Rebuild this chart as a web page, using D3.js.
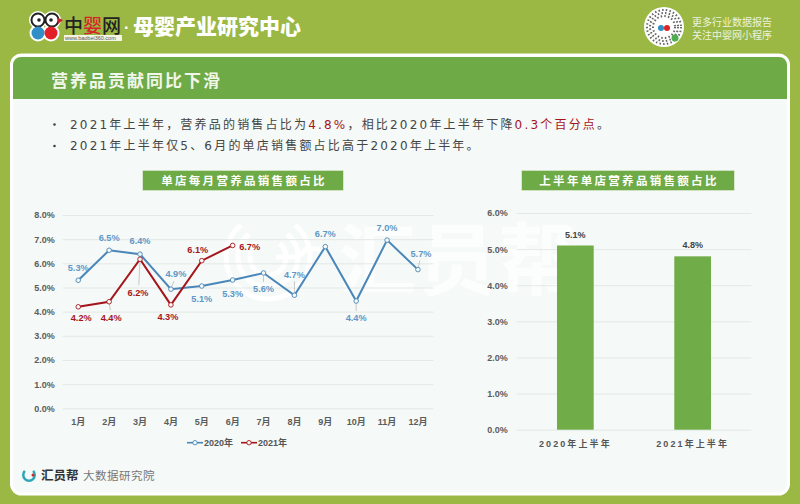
<!DOCTYPE html>
<html>
<head>
<meta charset="utf-8">
<script src="https://cdn.jsdelivr.net/npm/d3@7"></script>
<style>
html, body { margin: 0; padding: 0; background: #9ab843; }
svg { display: block; font-family: "Liberation Sans", "Noto Sans CJK SC", sans-serif; }
</style>
</head>
<body>
<script>
const months = ['1月', '2月', '3月', '4月', '5月', '6月', '7月', '8月', '9月', '10月', '11月', '12月']
const values2020 = [5.3, 6.54, 6.38, 4.93, 5.06, 5.31, 5.6, 4.68, 6.69, 4.44, 6.96, 5.74]
const values2021 = [4.2, 4.41, 6.17, 4.28, 6.11, 6.74]
const halfYears = ['2020年上半年', '2021年上半年']
const halfValues = [5.1, 4.8]
const lineTicks = [0, 1, 2, 3, 4, 5, 6, 7, 8]
const barTicks = [0, 1, 2, 3, 4, 5, 6]

// label nudges
const nudge2020 = [[0, -13], [0, -13], [0, -13], [5, -15], [0, 13], [0, 14], [0, 16], [0, -21], [0, -13], [0, 17], [0, -12], [3, -16]]
const nudge2021 = [[3, 10.5], [2, 15.5], [-2, 33], [-3, 12], [-4, -11], [17, 1]]

const blue = '#5f97c6'
const lineBlue = '#4a86b8'
const red = '#a5151c'
const green = '#6eaa46'
const pct = d3.format('.1f')

const svg = d3.select('body').append('svg').attr('width', 800).attr('height', 504)

svg.append('rect').attr('width', 800).attr('height', 504).attr('fill', '#9ab843')

// panel
svg.append('rect').attr('x', 11.5).attr('y', 55).attr('width', 777).attr('height', 439)
    .attr('rx', 10).attr('fill', '#f5f9f7').attr('stroke', '#fff').attr('stroke-width', 3)
svg.append('path').attr('d', 'M13 99V65a8 8 0 0 1 8-8H779a8 8 0 0 1 8 8V99Z').attr('fill', green)
svg.append('text').attr('x', 51).attr('y', 87).text('营养品贡献同比下滑')
    .attr('font-size', 17).attr('font-weight', 700).attr('letter-spacing', 2).attr('fill', '#f1f6ea')

// top banner
const logo = svg.append('g')
logo.selectAll('circle.o').data([[38, 20, 7.5], [52, 20, 7.5], [38, 33, 7], [51, 33, 7]]).enter().append('circle')
    .attr('cx', d => d[0]).attr('cy', d => d[1]).attr('r', d => d[2] + 1.5).attr('fill', '#fff')
logo.selectAll('circle.h').data([[38, 20], [52, 20]]).enter().append('circle')
    .attr('cx', d => d[0]).attr('cy', d => d[1]).attr('r', 6.5).attr('fill', '#fff').attr('stroke', '#222').attr('stroke-width', 2)
logo.selectAll('circle.e').data([[39, 20], [51, 20]]).enter().append('circle')
    .attr('cx', d => d[0]).attr('cy', d => d[1]).attr('r', 1.8).attr('fill', '#222')
logo.append('circle').attr('cx', 38).attr('cy', 33).attr('r', 6.5).attr('fill', '#2f8fc6')
logo.append('circle').attr('cx', 51).attr('cy', 33).attr('r', 6.5).attr('fill', '#e1202a')
logo.append('path').attr('d', 'M58 18L63 20L58 24Z').attr('fill', '#c4202a')
logo.append('rect').attr('x', 64).attr('y', 35).attr('width', 58).attr('height', 6).attr('fill', '#f2f4e4')
logo.append('text').attr('x', 65).attr('y', 40).attr('font-size', 5.5).attr('fill', '#555').text('www.baobei360.com')
const logoText = logo.append('text').attr('x', 64).attr('y', 33).attr('font-size', 19).attr('font-weight', 500)
    .attr('font-family', '"Noto Sans CJK SC"')
logoText.append('tspan').attr('fill', '#222').text('中')
logoText.append('tspan').attr('fill', '#d8232a').text('婴')
logoText.append('tspan').attr('fill', '#222').text('网')
svg.append('text').attr('x', 124).attr('y', 33).attr('font-size', 16).attr('font-weight', 700).attr('fill', '#fff').text('·')
svg.append('text').attr('x', 133).attr('y', 34).attr('font-size', 21).attr('font-weight', 900)
    .attr('font-family', '"Noto Sans CJK SC"').attr('fill', '#fff').text('母婴产业研究中心')

// mini program badge
const badge = svg.append('g').attr('transform', 'translate(664,27)')
badge.append('circle').attr('r', 20).attr('fill', '#fff')
badge.selectAll('circle.q').data([17, 14, 11]).enter().append('circle')
    .attr('r', d => d).attr('fill', 'none').attr('stroke', '#666').attr('stroke-width', 2).attr('stroke-dasharray', '1.5 2.2')
badge.append('circle').attr('cx', -3).attr('cy', 1).attr('r', 3).attr('fill', '#2f8fc6')
badge.append('circle').attr('cx', 3).attr('cy', 1).attr('r', 3).attr('fill', '#d8232a')
badge.append('circle').attr('cx', 11).attr('cy', 11).attr('r', 3.5).attr('fill', '#4caf50')
svg.selectAll('text.badge').data(['更多行业数据报告', '关注中婴网小程序']).enter().append('text')
    .attr('x', 692).attr('y', (d, i) => 26 + i * 12.5).attr('font-size', 10).attr('fill', '#eef3dd').text(d => d)

// bullet text
const bullets = [
    [['2021年上半年，营养品的销售占比为', '#444'], ['4.8%', red], ['，相比2020年上半年下降', '#444'], ['0.3个百分点', red], ['。', '#444']],
    [['2021年上半年仅5、6月的单店销售额占比高于2020年上半年。', '#444']]
]
bullets.forEach((parts, i) => {
    const y = 128.5 + i * 21.5
    svg.append('circle').attr('cx', 54.5).attr('cy', y - 4).attr('r', 1.3).attr('fill', '#444')
    const t = svg.append('text').attr('x', 70).attr('y', y).attr('font-size', 12).attr('letter-spacing', 2.2)
        .attr('font-family', '"DejaVu Sans", "Noto Sans CJK SC", sans-serif')
    parts.forEach(p => t.append('tspan').attr('fill', p[1]).text(p[0]))
})

// watermark sits under the charts
const mark = svg.append('g').attr('fill', 'none').attr('stroke', '#fff').attr('stroke-width', 5)
mark.selectAll('path').data([42, 30, 18]).enter().append('path')
    .attr('d', d => d3.arc()({innerRadius: d, outerRadius: d, startAngle: 0.7, endAngle: Math.PI * 2 - 0.7}))
    .attr('transform', 'translate(268,257)')
mark.append('path').attr('d', 'M276 257H298L306 249H320')
svg.append('text').attr('x', 338).attr('y', 289).attr('font-size', 78).attr('letter-spacing', 2)
    .attr('fill', '#fcfefd').attr('font-weight', 700).text('汇员帮')

function bandTitle(x0, x1, label) {
    svg.append('rect').attr('x', x0).attr('y', 170.5).attr('width', x1 - x0).attr('height', 20)
        .attr('fill', green).attr('stroke', '#dfead6').attr('stroke-width', 0.6)
    svg.append('text').attr('x', (x0 + x1) / 2 + 1).attr('y', 185).attr('text-anchor', 'middle')
        .attr('font-size', 11.5).attr('font-weight', 700).attr('letter-spacing', 2.3).attr('fill', '#fff').text(label)
}
bandTitle(142.7, 343.3, '单店每月营养品销售额占比')
bandTitle(521.7, 734.3, '上半年单店营养品销售额占比')

function styleAxis(g) {
    g.select('.domain').remove()
    g.selectAll('.tick line').attr('stroke', '#e3e9e6').attr('stroke-width', 1)
    g.selectAll('.tick text').attr('fill', '#5c5c5c').attr('font-size', 9).attr('font-weight', 700)
        .attr('font-family', '"Liberation Sans", "Noto Sans CJK SC", sans-serif')
}

// line chart
const x = d3.scaleBand().domain(months).range([62.8, 433.4])
const y = d3.scaleLinear().domain([0, 8]).range([408.3, 215])

svg.append('g').attr('transform', 'translate(62.8,0)')
    .call(d3.axisLeft(y).tickValues(lineTicks).tickSize(-370.6).tickPadding(8).tickFormat(d => pct(d) + '%'))
    .call(styleAxis)
svg.append('g').attr('transform', 'translate(0,408.3)')
    .call(d3.axisBottom(x).tickSize(0).tickPadding(10))
    .call(styleAxis)

const px = i => x(months[i]) + x.bandwidth() / 2
const line = d3.line().x((d, i) => px(i)).y(d => y(d))

function drawSeries(values, nudge, stroke, labelColor) {
    const g = svg.append('g')
    // leader lines for labels pushed away from their point
    values.forEach((v, i) => {
        const [dx, dy] = nudge[i]
        if (Math.abs(dy) < 14.5) return
        g.append('line').attr('x1', px(i)).attr('y1', y(v))
            .attr('x2', px(i) + dx * 0.6).attr('y2', y(v) + dy - Math.sign(dy) * 7)
            .attr('stroke', '#bbb').attr('stroke-width', 0.8)
    })
    g.append('path').attr('d', line(values)).attr('fill', 'none').attr('stroke', stroke).attr('stroke-width', 2)
    g.selectAll('circle').data(values).enter().append('circle')
        .attr('cx', (d, i) => px(i)).attr('cy', d => y(d)).attr('r', 2.3)
        .attr('fill', '#f5f9f7').attr('stroke', stroke).attr('stroke-width', 0.9)
    g.selectAll('text').data(values).enter().append('text')
        .attr('x', (d, i) => px(i) + nudge[i][0])
        .attr('y', (d, i) => y(d) + nudge[i][1] + 3.3)
        .attr('text-anchor', 'middle').attr('font-size', 9.2).attr('font-weight', 700)
        .attr('fill', labelColor).text(d => pct(d) + '%')
}
drawSeries(values2020, nudge2020, lineBlue, blue)
drawSeries(values2021, nudge2021, red, red)

// legend
const legend = [['2020年', lineBlue, 187], ['2021年', red, 241]]
legend.forEach(l => {
    svg.append('line').attr('x1', l[2]).attr('x2', l[2] + 16).attr('y1', 442.7).attr('y2', 442.7).attr('stroke', l[1]).attr('stroke-width', 1.6)
    svg.append('circle').attr('cx', l[2] + 8).attr('cy', 442.7).attr('r', 2.2).attr('fill', '#f5f9f7').attr('stroke', l[1]).attr('stroke-width', 0.9)
    svg.append('text').attr('x', l[2] + 17).attr('y', 446).attr('font-size', 9).attr('font-weight', 700).attr('fill', '#555').text(l[0])
})

// bar chart
const bx = d3.scaleBand().domain(halfYears).range([516.7, 751.3]).paddingInner(0.687).paddingOuter(0.3435)
const by = d3.scaleLinear().domain([0, 6]).range([429.7, 213])

svg.append('g').attr('transform', 'translate(516.7,0)')
    .call(d3.axisLeft(by).tickValues(barTicks).tickSize(-234.6).tickPadding(9).tickFormat(d => pct(d) + '%'))
    .call(styleAxis)
svg.selectAll('rect.bar').data(halfValues).enter().append('rect').attr('class', 'bar')
    .attr('x', (d, i) => bx(halfYears[i])).attr('y', d => by(d))
    .attr('width', bx.bandwidth()).attr('height', d => by(0) - by(d)).attr('fill', '#70ac47')
svg.selectAll('text.barlabel').data(halfValues).enter().append('text').attr('class', 'barlabel')
    .attr('x', (d, i) => bx(halfYears[i]) + bx.bandwidth() / 2).attr('y', d => by(d) - 8)
    .attr('text-anchor', 'middle').attr('font-size', 9).attr('font-weight', 700).attr('fill', '#444').text(d => pct(d) + '%')
svg.selectAll('text.barcat').data(halfYears).enter().append('text').attr('class', 'barcat')
    .attr('x', (d, i) => bx(d) + bx.bandwidth() / 2).attr('y', 446.5)
    .attr('text-anchor', 'middle').attr('font-size', 9).attr('font-weight', 700).attr('letter-spacing', 2.1).attr('fill', '#555').text(d => d)

// footer
const foot = svg.append('g').attr('transform', 'translate(29,475)')
foot.append('path').attr('d', d3.arc()({innerRadius: 4.5, outerRadius: 7, startAngle: 0.8, endAngle: Math.PI * 2 - 0.8})).attr('fill', '#2aa6b8')
foot.append('circle').attr('cx', 4).attr('r', 1.5).attr('fill', '#d8232a')
svg.append('text').attr('x', 41).attr('y', 480).attr('font-size', 12.5).attr('font-weight', 700).attr('fill', '#333').text('汇员帮')
svg.append('text').attr('x', 83).attr('y', 480).attr('font-size', 11.5).attr('letter-spacing', 0.5).attr('fill', '#777').text('大数据研究院')
</script>
</body>
</html>
